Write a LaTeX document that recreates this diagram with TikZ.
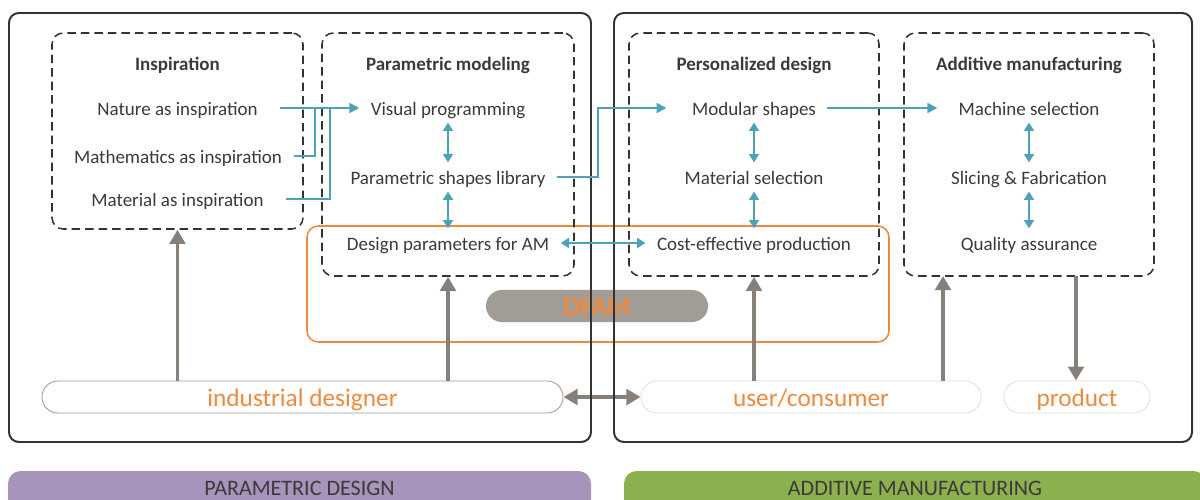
\documentclass[tikz,border=0pt]{standalone}
\usepackage{fontspec}
\setmainfont{Carlito}
\usetikzlibrary{arrows.meta,fit,positioning}

\definecolor{framegray}{HTML}{333333}
\definecolor{textgray}{HTML}{3A3A3A}
\definecolor{arrowteal}{HTML}{4CA2B6}
\definecolor{arrowgray}{HTML}{877F79}
\definecolor{dfamorange}{HTML}{EE8A3F}
\definecolor{dfamfill}{HTML}{A29C97}
\definecolor{barpurple}{HTML}{A893BB}
\definecolor{bargreen}{HTML}{8DB04F}

\tikzset{
  outerbox/.style={draw=framegray, line width=1.4pt, rounded corners=7pt},
  dbox/.style={draw=framegray, line width=1.1pt, dash pattern=on 6pt off 3.6pt,
    rounded corners=8pt, inner sep=0pt},
  obox/.style={draw=dfamorange, line width=1.1pt, rounded corners=8pt},
  txt/.style={font=\fontsize{13.5}{16}\selectfont, text=textgray,
    inner xsep=8pt, inner ysep=4pt, text height=11.6pt, text depth=0.7pt},
  ttl/.style={txt, font=\fontsize{13.5}{16}\selectfont\bfseries},
  tline/.style={draw=arrowteal, line width=1.5pt},
  tarrow/.style={tline, -{Triangle[length=7pt,width=7pt]}},
  tdarrow/.style={tline, {Triangle[length=6pt,width=7pt]}-{Triangle[length=6pt,width=7pt]}},
  garrow/.style={draw=arrowgray, line width=2.8pt, -{Triangle[length=10pt,width=11pt]}},
  gdarrow/.style={draw=arrowgray, line width=2.8pt,
    {Triangle[length=10pt,width=11pt]}-{Triangle[length=10pt,width=11pt]}},
  pill/.style={rounded corners=11.4pt, minimum height=0.8cm, inner sep=0pt,
    text height=15pt, text depth=1.8pt,
    font=\fontsize{18}{20}\selectfont, text=dfamorange},
  bartext/.style={font=\fontsize{15.7}{18}\selectfont, text=textgray},
}

\begin{document}
\begin{tikzpicture}[x=0.025cm, y=-0.025cm]
    \clip (0,0) rectangle (1200,499);

    % Bottom bars
    \fill[barpurple, rounded corners=9pt] (8,471) rectangle (591,530);
    \fill[bargreen, rounded corners=9pt] (624,471) rectangle (1206,530);
    \node[bartext] (pdbar) at (299.5,488) {PARAMETRIC DESIGN};
    \node[bartext] (ambar) at (915,488) {ADDITIVE MANUFACTURING};

    % DFAM region
    \draw[obox] (307,226) rectangle (889,342);
    \node[pill, fill=dfamfill, minimum width=5.55cm, font=\fontsize{19}{20}\selectfont\bfseries] (dfam) at (597,306) {DFAM};

    % Actors
    \node[pill, draw=black!40, line width=0.6pt, minimum width=13.025cm] (desig) at (302.5,397) {industrial designer};
    \node[pill, draw=black!12, line width=0.6pt, minimum width=8.5cm] (user) at (811,397) {user/consumer};
    \node[pill, draw=black!12, line width=0.6pt, minimum width=3.65cm] (prod) at (1077,397) {product};

    % Gray arrows
    \coordinate (ain) at (943,276);
    \coordinate (aout) at (1076,276);
    \draw[gdarrow] (desig.east) -- (user.west);

    % Outer frames
    \draw[outerbox] (9,13) rectangle (591,442);
    \draw[outerbox] (614,13) rectangle (1192,442);

    % Dashed boxes
    \coordinate (insp-a) at (52,33);  \coordinate (insp-b) at (303,229);
    \coordinate (pmod-a) at (322,33); \coordinate (pmod-b) at (574,276);
    \coordinate (pdes-a) at (629,33); \coordinate (pdes-b) at (879,276);
    \coordinate (amfg-a) at (904,33); \coordinate (amfg-b) at (1154,276);
    \node[dbox, fit=(insp-a)(insp-b)] (insp) {};
    \node[dbox, fit=(pmod-a)(pmod-b)] (pmod) {};
    \node[dbox, fit=(pdes-a)(pdes-b)] (pdes) {};
    \node[dbox, fit=(amfg-a)(amfg-b)] (amfg) {};

    \draw[garrow] (desig.north -| insp.south) -- (insp.south);
    \draw[garrow] (desig.north -| pmod.south) -- (pmod.south);
    \draw[garrow] (user.north -| pdes.south) -- (pdes.south);
    \draw[garrow] (user.north -| ain) -- (ain);
    \draw[garrow] (aout) -- (prod.north -| aout);

    % Inspiration
    \node[ttl] (insptitle) at (177.5,63) {Inspiration};
    \node[txt] (natinsp) at (177.5,108) {Nature as inspiration};
    \node[txt] (mathinsp) at (178,156) {Mathematics as inspiration};
    \node[txt] (matinsp) at (177.5,199) {Material as inspiration};

    % Parametric modeling
    \node[ttl] (pmodtitle) at (448,63) {Parametric modeling};
    \node[txt] (vprog) at (448,108) {Visual programming};
    \node[txt] (pslib) at (448,177) {Parametric shapes library};
    \node[txt] (dpam) at (448,243) {Design parameters for AM};

    % Personalized design
    \node[ttl] (pdestitle) at (754,63) {Personalized design};
    \node[txt] (modsh) at (754,108) {Modular shapes};
    \node[txt] (matsel) at (754,177) {Material selection};
    \node[txt] (cep) at (754,243) {Cost-effective production};

    % Additive manufacturing
    \node[ttl] (amfgtitle) at (1029,63) {Additive manufacturing};
    \node[txt] (machsel) at (1029,108) {Machine selection};
    \node[txt] (slicing) at (1029,177) {Slicing \& Fabrication};
    \node[txt] (qa) at (1029,243) {Quality assurance};

    % Teal connectors
    \coordinate (jmath) at (315,108);
    \coordinate (jmat) at (330,108);
    \coordinate (jshape) at (598,108);
    \draw[tarrow] ([xshift=8pt]natinsp.east) -- (vprog.west);
    \draw[tline] (mathinsp.east) -| (jmath);
    \draw[tline] ([xshift=8pt]matinsp.east) -| (jmat);
    \draw[tarrow] (pslib.east) -| (jshape) -- ([xshift=-10pt]modsh.west);
    \draw[tarrow] (modsh.east) -- ([xshift=-7pt]machsel.west);
    \draw[tdarrow] (vprog.south) -- (pslib.north);
    \draw[tdarrow] (pslib.south) -- (dpam.north);
    \draw[tdarrow] (modsh.south) -- (matsel.north);
    \draw[tdarrow] (matsel.south) -- (cep.north);
    \draw[tdarrow] (machsel.south) -- (slicing.north);
    \draw[tdarrow] (slicing.south) -- (qa.north);
    \draw[tdarrow] (dpam.east) -- (cep.west);
\end{tikzpicture}
\end{document}
